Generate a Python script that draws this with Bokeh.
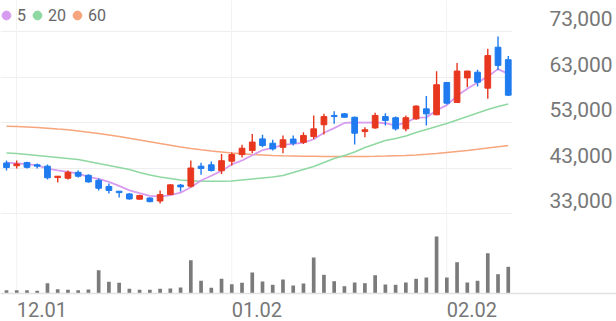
from bokeh.plotting import figure
from bokeh.models import (Range1d, LinearAxis, FixedTicker, NumeralTickFormatter,
                          Legend, LegendItem, ColumnDataSource, Grid, Span)
from bokeh.core.properties import value
from bokeh.layouts import column
from bokeh.embed import file_html
from bokeh.resources import INLINE

# ---------------- data ----------------
idx = list(range(50))
opens = [44100, 43500, 44200, 43700, 43400, 40900, 40750, 42050, 41400, 40300,
         38950, 37900, 37300, 36150, 36400, 35750, 37150, 39250, 39000, 43400,
         43700, 42400, 44500, 45950, 46850, 49400, 48450, 47550, 49350, 48650,
         49900, 52500, 54550, 54900, 54150, 51000, 51800, 54300, 54050, 51600,
         53800, 56000, 54700, 61800, 57400, 62800, 64050, 60550, 69550, 66800]
highs = [44650, 44650, 44400, 44000, 43750, 41250, 42450, 42450, 41650, 40700,
         39600, 37950, 37500, 37100, 36550, 38050, 39400, 39500, 44650, 44150,
         44450, 46100, 46400, 48100, 50500, 50300, 49200, 50150, 50150, 50850,
         54550, 54900, 55500, 55100, 54300, 51950, 55150, 55050, 54300, 54550,
         56800, 58800, 64250, 61900, 66100, 64400, 64600, 69200, 71900, 67600]
lows = [42450, 42900, 42900, 42900, 40450, 39800, 40450, 40900, 39750, 38050,
        37400, 36500, 36000, 36000, 35450, 35200, 37050, 37850, 38700, 41500,
        42250, 41700, 43550, 45300, 46250, 47550, 46850, 46250, 47950, 48300,
        49400, 50350, 52700, 54050, 48150, 49750, 51600, 52350, 51250, 51100,
        53600, 52350, 54600, 56950, 57300, 60750, 60900, 58200, 64550, 58800]
closes = [43100, 43900, 43150, 43400, 40850, 41200, 42050, 41200, 39950, 38550,
          38050, 37600, 36200, 36950, 35600, 37150, 39300, 38850, 43000, 42900,
          42450, 44600, 45950, 47350, 48700, 47950, 47200, 49200, 48450, 50150,
          51600, 54300, 54300, 54150, 50650, 51400, 54550, 53450, 51600, 54050,
          56600, 54900, 61300, 57250, 64300, 64300, 61850, 67700, 65550, 59000]
ma5 = [44200, 44000, 43850, 43600, 42880, 42500, 42130, 41740, 41050, 40590,
       39960, 39070, 38070, 37470, 36880, 36700, 37040, 37570, 38780, 40240,
       41300, 42360, 43780, 44650, 45810, 46910, 47430, 48080, 48300, 48590,
       49320, 50740, 51760, 52900, 53000, 52960, 53010, 52840, 52330, 53010,
       54050, 54120, 55690, 56820, 58870, 60410, 61800, 63080, 64740, 63680]
ma20 = [46300, 46190, 45970, 45750, 45530, 45310, 45090, 44870, 44430, 43990,
        43550, 43110, 42670, 42010, 41460, 41020, 40690, 40360, 40180, 40100,
        40070, 40070, 40140, 40360, 40580, 40800, 41020, 41350, 42010, 42670,
        43330, 44210, 45090, 45750, 46520, 47500, 48270, 49040, 49480, 50030,
        50800, 51460, 52120, 52780, 53550, 54320, 55090, 55860, 56520, 57070]
ma60 = [52190, 52120, 52010, 51900, 51750, 51570, 51400, 51130, 50870, 50580,
        50250, 49920, 49520, 49150, 48780, 48380, 47990, 47610, 47280, 47000,
        46730, 46510, 46290, 46120, 45970, 45860, 45750, 45680, 45640, 45590,
        45570, 45550, 45530, 45530, 45530, 45550, 45570, 45610, 45680, 45750,
        45860, 46010, 46190, 46410, 46630, 46850, 47110, 47400, 47680, 47940]
volume = [330, 330, 330, 270, 1030, 430, 370, 330, 400, 2330,
          1170, 1070, 470, 370, 370, 470, 500, 600, 3330, 1270,
          570, 1470, 930, 1070, 2100, 1200, 870, 1400, 800, 1000,
          3600, 1870, 1230, 730, 1100, 1030, 1830, 900, 870, 1100,
          1470, 1600, 5700, 1600, 3130, 1100, 1270, 4030, 1930, 2670]
price_ticks = [33000, 43000, 53000, 63000, 73000]
x_tick_idx = [1, 22, 43]
x_tick_labels = ["12.01", "01.02", "02.02"]
legend_labels = ["5", "20", "60"]

# ---------------- style / layout ----------------
RED = "#e8371f"
BLUE = "#1f7bef"
VOLC = "#7b7b7b"
C5, C20, C60 = "#d79cf0", "#8fd8a2", "#f7a57d"
GRID = "#eeeeee"
VGRID = "#f2f2f2"
TXT = "#777777"
FONT = "Roboto"

STEP = 10.24          # px per trading day
X0PX = 6              # px of first candle
FULL_W = 616
PRICE_FRAME_W = 512
PRICE_H = 218
VOL_H = 103
VOL_BASE_FROM_TOP = 75   # px from top of the volume panel to its baseline
VOL_UNITS_PER_PX = 100
PX_PER_UNIT = 45.5 / 10000
TOP_GRID_PX = 31

x_start = -X0PX / STEP
x_end_price = x_start + PRICE_FRAME_W / STEP
x_end_vol = x_start + FULL_W / STEP
y_hi = price_ticks[-1] + TOP_GRID_PX / PX_PER_UNIT
y_lo = y_hi - PRICE_H / PX_PER_UNIT
lbl_off_y = 13 / PX_PER_UNIT
v_top = VOL_BASE_FROM_TOP * VOL_UNITS_PER_PX
v_bottom = -(VOL_H - VOL_BASE_FROM_TOP) * VOL_UNITS_PER_PX

# ---------------- price panel ----------------
p = figure(width=FULL_W, height=PRICE_H, x_range=Range1d(x_start, x_end_price),
           y_range=Range1d(y_lo, y_hi), x_axis_location=None, y_axis_location=None,
           toolbar_location=None, output_backend="svg", frame_align=False,
           min_border_left=0, min_border_top=0, min_border_bottom=0,
           min_border_right=FULL_W - PRICE_FRAME_W, outline_line_color=None,
           background_fill_color="white", border_fill_color="white")
for g in p.grid:
    g.visible = False
p.add_layout(Grid(dimension=1, ticker=FixedTicker(ticks=price_ticks),
                  grid_line_color=GRID, grid_line_width=1))
p.add_layout(Grid(dimension=0, ticker=FixedTicker(ticks=x_tick_idx),
                  grid_line_color=VGRID, grid_line_width=1))

p.extra_y_ranges = {"lbl": Range1d(y_lo - lbl_off_y, y_hi - lbl_off_y)}
yax = LinearAxis(y_range_name="lbl", ticker=FixedTicker(ticks=price_ticks),
                 formatter=NumeralTickFormatter(format="0,0"),
                 axis_line_color=None, major_tick_line_color=None,
                 minor_tick_line_color=None, major_tick_out=0, major_tick_in=0,
                 minor_tick_out=0, minor_tick_in=0,
                 major_label_standoff=37, major_label_text_font=FONT,
                 major_label_text_font_size="21px", major_label_text_color=TXT)
p.add_layout(yax, "right")

p.line(idx, ma60, line_color=C60, line_width=1.5)
p.line(idx, ma20, line_color=C20, line_width=1.5)
p.line(idx, ma5, line_color=C5, line_width=1.8)

colors = [RED if c >= o else BLUE for o, c in zip(opens, closes)]
src = ColumnDataSource(dict(
    x=idx, h=highs, l=lows,
    top=[max(o, c) for o, c in zip(opens, closes)],
    bottom=[min(o, c) for o, c in zip(opens, closes)],
    color=colors))
p.segment(x0="x", y0="h", x1="x", y1="l", line_color="color", line_width=1.4, source=src)
p.vbar(x="x", width=0.56, top="top", bottom="bottom", fill_color="color",
       line_color="color", line_width=1, source=src)

nan = float("nan")
dots = [p.scatter(x=[nan], y=[nan], marker="circle", size=9, fill_color=c, line_color=c)
        for c in (C5, C20, C60)]
legend = Legend(items=[LegendItem(label=lab, renderers=[r]) for lab, r in zip(legend_labels, dots)],
                orientation="horizontal", location=(-5, PRICE_H - 26),
                background_fill_alpha=0, border_line_color=None, padding=0, margin=0,
                spacing=-2, label_standoff=-2, label_width=0, glyph_width=22, glyph_height=22,
                label_text_font=FONT, label_text_font_size="16px",
                label_text_color="#666666")
p.add_layout(legend)

# ---------------- volume panel ----------------
v = figure(width=FULL_W, height=VOL_H, x_range=Range1d(x_start, x_end_vol),
           y_range=Range1d(v_bottom, v_top), x_axis_location=None, y_axis_location=None,
           toolbar_location=None, output_backend="svg", frame_align=False,
           min_border=0, outline_line_color=None,
           background_fill_color="white", border_fill_color="white")
for g in v.grid:
    g.visible = False
# vertical grid lines from the baseline up to the top of the panel
v.segment(x0=x_tick_idx, y0=[0] * len(x_tick_idx), x1=x_tick_idx,
          y1=[v_top] * len(x_tick_idx), line_color=VGRID, line_width=1)
v.add_layout(Span(location=0, dimension="width", line_color="#e2e2e2", line_width=1.5))
v.vbar(x=idx, width=0.36, top=volume, bottom=0, fill_color=VOLC, line_color=None)
v.text(x=x_tick_idx, y=[0] * len(x_tick_idx), text=x_tick_labels,
       x_offset=0, y_offset=15.5, text_align="left", text_baseline="middle",
       text_font=value(FONT), text_font_size="20px", text_color=TXT)

layout = column(p, v, spacing=0)
open("out.html", "w").write(file_html(layout, INLINE))
